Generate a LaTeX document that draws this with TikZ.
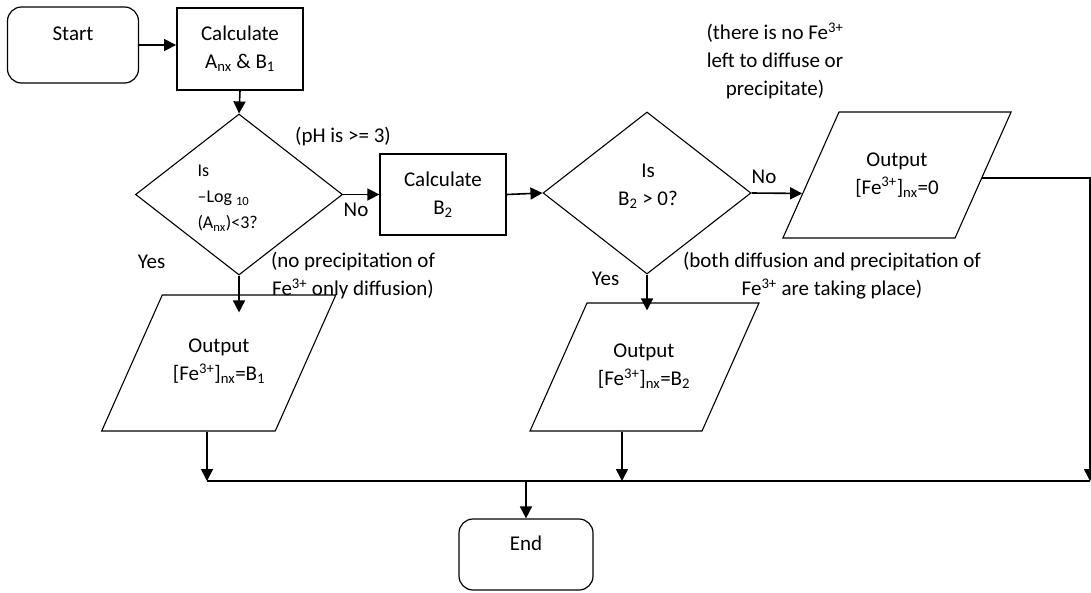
\documentclass[tikz,border=0pt]{standalone}
\usepackage{fontspec}
\setmainfont{Carlito}
\usetikzlibrary{shapes.geometric,arrows.meta}

\tikzset{
    term/.style={draw, rounded corners=14pt, line width=1.2pt, inner sep=0pt,
        minimum width=131pt, text height=33pt, text depth=43pt},
    proc/.style={draw, rectangle, line width=1.8pt, inner sep=0pt, align=center},
    decision/.style={draw, diamond, line width=1.1pt, inner sep=0pt},
    io/.style={draw, trapezium, trapezium left angle=66, trapezium right angle=114,
        line width=1.1pt, inner sep=0pt, text depth=0pt},
    arr/.style={line width=1.6pt, -{Triangle[length=12pt,width=12pt]}},
    note/.style={align=center}
}

\begin{document}
\begin{tikzpicture}[x=1pt, y=-1pt, font=\fontsize{21}{28}\selectfont]
    \useasboundingbox (0,0) rectangle (1091,592);

    % Start and first calculation
    \node (start) [term] at (73,45) {Start};
    \node (calc1) [proc, minimum width=126pt, minimum height=82pt] at (240,49) {Calculate\\A\textsubscript{nx} \& B\textsubscript{1}};

    % First decision
    \node (dec1) [decision, minimum width=207pt, minimum height=161pt] at (239,194.5) {};
    \node (dec1txt) [anchor=west, align=left, font=\fontsize{18}{26}\selectfont] at (194,198) {Is\\–Log \textsubscript{10}\\(A\textsubscript{nx})<3?};
    \node (phnote) [note] at (343,137) {(pH is >= 3)};
    \node (no1) at (356,210) {No};
    \node (yes1) at (151.5,262) {Yes};
    \node (diffnote) [note] at (353,276) {(no precipitation of\\Fe\textsuperscript{3+} only diffusion)};

    % Second calculation and decision
    \node (calc2) [proc, minimum width=125.5pt, minimum height=81pt] at (443,194.5) {Calculate\\B\textsubscript{2}};
    \node (dec2) [decision, minimum width=208pt, minimum height=162pt] at (647,193) {};
    \node (dec2txt) [note] at (648,186) {Is\\B\textsubscript{2} > 0?};
    \node (zeronote) [note] at (775,61) {(there is no Fe\textsuperscript{3+}\\left to diffuse or\\precipitate)};
    \node (no2) at (764,177) {No};
    \node (yes2) at (605.5,279) {Yes};
    \node (bothnote) [note] at (832,276) {(both diffusion and precipitation of\\Fe\textsuperscript{3+} are taking place)};

    % Outputs
    \node (out0) [io, text width=116pt, text height=126pt] at (897,175) {};
    \node (out0txt) [note] at (897,175) {Output\\{[}Fe\textsuperscript{3+}{]}\textsubscript{nx}=0};
    \node (out1) [io, text width=113pt, text height=136pt] at (218.75,363) {};
    \node (out1txt) [note] at (219,361.5) {Output\\{[}Fe\textsuperscript{3+}{]}\textsubscript{nx}=B\textsubscript{1}};
    \node (out2) [io, text width=115pt, text height=128pt] at (644.5,367) {};
    \node (out2txt) [note] at (644,366.5) {Output\\{[}Fe\textsuperscript{3+}{]}\textsubscript{nx}=B\textsubscript{2}};

    % End
    \node (end) [term, minimum width=134pt, text height=31pt, text depth=40pt] at (526,554.5) {End};

    % Collecting line
    \coordinate (busL) at (207,481);
    \coordinate (busM) at (622,481);
    \coordinate (busR) at (1090,481);

    % Connectors
    \draw[arr] (start.east) -- (start.east -| calc1.west);
    \draw[arr] (calc1.south) -- (dec1.north);
    \draw[arr] (dec1.east) -- (calc2.west);
    \draw[arr] (calc2.east) -- (dec2.west);
    \draw[arr] (dec2.east) -- (out0.191);
    \draw[arr, shorten >=-18pt] (dec1.south) -- (dec1.south |- out1.north);
    \draw[arr, shorten >=-8pt] (dec2.south) -- (dec2.south |- out2.north);
    \draw[arr] (out1.south -| busL) -- (busL);
    \draw[arr] (out2.south -| busM) -- (busM);
    \draw[arr] (out0.358) -| (busR);
    \draw[line width=1.6pt] (busL) -- (busR);
    \draw[arr] (end.north |- busL) -- (end.north);
\end{tikzpicture}
\end{document}
